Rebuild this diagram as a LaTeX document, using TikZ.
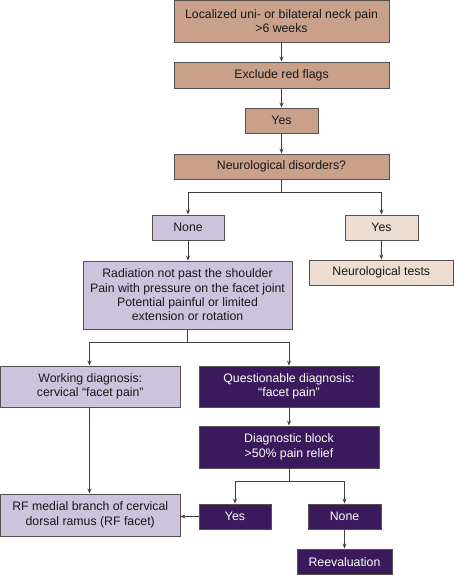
\documentclass[tikz,border=0pt]{standalone}
\usepackage{fontspec}
\setmainfont{Liberation Sans}
\usetikzlibrary{arrows.meta}
\definecolor{tan}{HTML}{C9A08A}
\definecolor{beige}{HTML}{EDDCD0}
\definecolor{lilac}{HTML}{CCC3DC}
\definecolor{dpurple}{HTML}{3A1A5C}
\definecolor{edge}{HTML}{5A5050}
\definecolor{wire}{HTML}{404040}
\begin{document}
\begin{tikzpicture}[x=1pt,y=-1pt,
  box/.style={draw=edge, line width=0.9pt, inner sep=0pt, align=center,
    font=\fontsize{12.3}{14.4}\selectfont, text=black!90},
  tanbox/.style={box, fill=tan},
  beigebox/.style={box, fill=beige},
  lilacbox/.style={box, fill=lilac},
  darkbox/.style={box, fill=dpurple, text=white},
  wirestyle/.style={draw=wire, line width=0.8pt},
  arr/.style={wirestyle, -{Stealth[length=5pt,width=4pt]}}]
\useasboundingbox (0,0) rectangle (454,575);
% nodes
\node[tanbox, minimum width=215pt, minimum height=41.5pt] (b1) at (281.5,21.25) {Localized uni- or bilateral neck pain\\>6 weeks};
\node[tanbox, minimum width=215pt, minimum height=26pt] (b2) at (281.5,75) {Exclude red flags};
\node[tanbox, minimum width=73pt, minimum height=25pt] (yes1) at (281.5,120.5) {Yes};
\node[tanbox, minimum width=215pt, minimum height=25pt] (neuro) at (281.5,166.5) {Neurological disorders?};
\node[lilacbox, minimum width=72pt, minimum height=25pt] (none) at (188,227.5) {None};
\node[beigebox, minimum width=73pt, minimum height=25pt] (yes2) at (381.5,227.5) {Yes};
\node[beigebox, minimum width=144.5pt, minimum height=25pt] (ntests) at (381.25,272.5) {Neurological tests};
\node[lilacbox, minimum width=209pt, minimum height=68pt] (rad) at (187.5,295) {Radiation not past the shoulder\\Pain with pressure on the facet joint\\Potential painful or limited\\extension or rotation};
\node[lilacbox, minimum width=179.5pt, minimum height=41pt] (work) at (90.25,386.5) {Working diagnosis:\\cervical “facet pain”};
\node[darkbox, minimum width=180pt, minimum height=41pt] (quest) at (289,386.5) {Questionable diagnosis:\\“facet pain”};
\node[darkbox, minimum width=180pt, minimum height=42pt] (diag) at (289,447) {Diagnostic block\\>50\% pain relief};
\node[darkbox, minimum width=72pt, minimum height=25pt] (yes3) at (235,516.5) {Yes};
\node[darkbox, minimum width=73pt, minimum height=25pt] (none3) at (344.5,516.5) {None};
\node[lilacbox, minimum width=179.5pt, minimum height=42pt] (rf) at (90.25,515) {RF medial branch of cervical\\dorsal ramus (RF facet)};
\node[darkbox, minimum width=95pt, minimum height=25.5pt] (reeval) at (344.5,561.75) {Reevaluation};
% connectors
\draw[arr] (b1) -- (b2);
\draw[arr] (b2) -- (yes1);
\draw[arr] (yes1) -- (neuro);
\draw[wirestyle] (neuro.south) -- (281.5,192) coordinate (s1);
\draw[arr] (s1) -| (none.north);
\draw[arr] (s1) -| (yes2.north);
\draw[arr] (yes2) -- (ntests);
\draw[arr] (none) -- (rad.north -| none);
\draw[wirestyle] (rad.south) -- (187.5,342) coordinate (s2);
\draw[arr] (s2) -| (work.north -| 89.5,0);
\draw[arr] (s2) -| (quest.north);
\draw[arr] (quest) -- (diag);
\draw[wirestyle] (diag.south) -- (289,481) coordinate (s3);
\draw[arr] (s3) -| (yes3.north);
\draw[arr] (s3) -| (none3.north);
\draw[arr] (none3) -- (reeval);
\draw[arr] (work.south -| 89.5,0) -- (rf.north -| 89.5,0);
\draw[arr] (yes3.west) -- (rf.east |- yes3.west);
\end{tikzpicture}
\end{document}
